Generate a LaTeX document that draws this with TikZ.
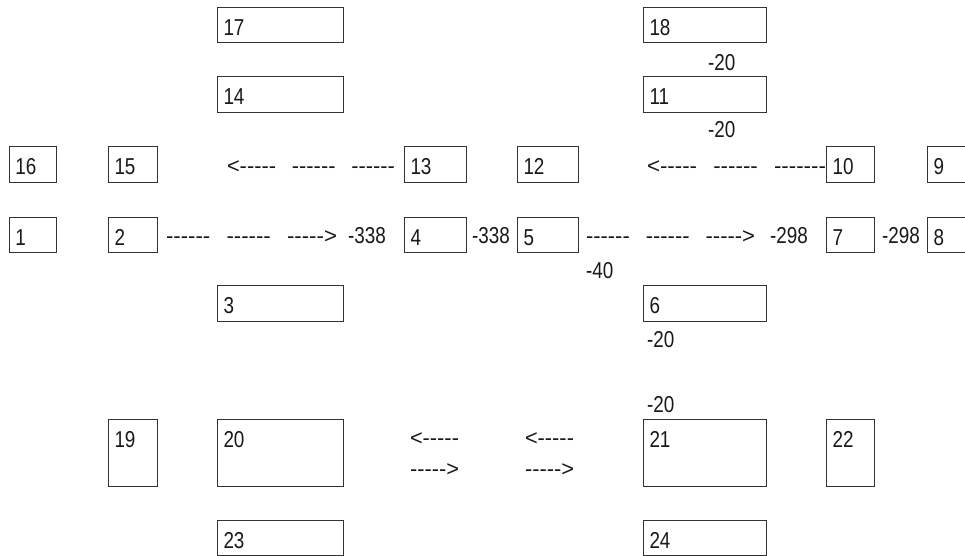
\documentclass[tikz,border=0pt]{standalone}
\usepackage{fontspec}
\usepackage{graphicx}
\setmainfont[FakeStretch=0.82]{Liberation Sans}
\newfontfamily\dashfont{Liberation Sans}
\newcommand\bx[6]{%
  \node[box,minimum width={(#4-#2)*1pt},minimum height={(#5-#3)*1pt}] (b#1) at (#2,#3) {};
  \node[lbl] (t#1) at (#2+6.5,#3+28) {#6};}
\newcommand\dsh[1]{{\dashfont\spaceskip=16pt\relax #1}}
\begin{document}
\begin{tikzpicture}[x=1pt,y=-1pt,
  box/.style={draw=black!80,line width=1pt,anchor=north west,inner sep=0pt,outer sep=0pt},
  lbl/.style={anchor=base west,inner sep=0pt,outer sep=0pt,text=black!90,font=\fontsize{23}{23}\selectfont},
  conn/.style={anchor=base west,inner sep=0pt,outer sep=0pt,text=black!90,font=\fontsize{22}{22}\selectfont}]
\useasboundingbox (0,0) rectangle (965,556);
\clip (0,0) rectangle (965,556);
% boxes
\bx{17}{217}{8}{343}{43}{17}
\bx{18}{643}{8}{766}{43}{18}
\bx{14}{217}{77}{343}{113}{14}
\bx{11}{643}{77}{766}{113}{11}
\bx{16}{9}{147}{56}{182}{16}
\bx{15}{108}{147}{157}{182}{15}
\bx{13}{404}{147}{466}{182}{13}
\bx{12}{517}{147}{578}{182}{12}
\bx{10}{826}{147}{874}{182}{10}
\bx{9}{927}{147}{975}{182}{9}
\bx{1}{9}{217}{56}{252}{1}
\bx{2}{108}{217}{157}{252}{2}
\bx{4}{404}{217}{466}{252}{4}
\bx{5}{517}{217}{578}{252}{5}
\bx{7}{826}{217}{874}{252}{7}
\bx{8}{927}{217}{975}{252}{8}
\bx{3}{217}{285}{343}{321}{3}
\bx{6}{643}{285}{766}{321}{6}
\bx{19}{108}{419}{157}{486}{19}
\bx{20}{217}{419}{343}{486}{20}
\bx{21}{643}{419}{766}{486}{21}
\bx{22}{826}{419}{874}{486}{22}
\bx{23}{217}{520}{343}{555}{23}
\bx{24}{643}{520}{766}{555}{24}
% text connectors
\node[conn] (c1) at (227,174) {\resizebox{168pt}{\height}{\dsh{<----- ------ ------}}};
\node[conn] (c2) at (647,174) {\resizebox{179pt}{\height}{\dsh{<----- ------ -------}}};
\node[conn] (c3) at (166,243) {\resizebox{171pt}{\height}{\dsh{------ ------ ----->}}};
\node[conn] (c4) at (586,243) {\resizebox{169pt}{\height}{\dsh{------ ------ ----->}}};
\node[conn] (c5) at (410,445) {\resizebox{49pt}{\height}{\dsh{<-----}}};
\node[conn] (c6) at (410,476) {\resizebox{49pt}{\height}{\dsh{----->}}};
\node[conn] (c7) at (525,445) {\resizebox{49pt}{\height}{\dsh{<-----}}};
\node[conn] (c8) at (525,476) {\resizebox{49pt}{\height}{\dsh{----->}}};
% value labels
\node[lbl] (v1) at (708,71) {-20};
\node[lbl] (v2) at (708,138) {-20};
\node[lbl] (v3) at (348,243) {-338};
\node[lbl] (v4) at (472,243) {-338};
\node[lbl] (v5) at (770,243) {-298};
\node[lbl] (v6) at (882,243) {-298};
\node[lbl] (v7) at (586,278) {-40};
\node[lbl] (v8) at (647,347) {-20};
\node[lbl] (v9) at (647,412) {-20};
\end{tikzpicture}
\end{document}
